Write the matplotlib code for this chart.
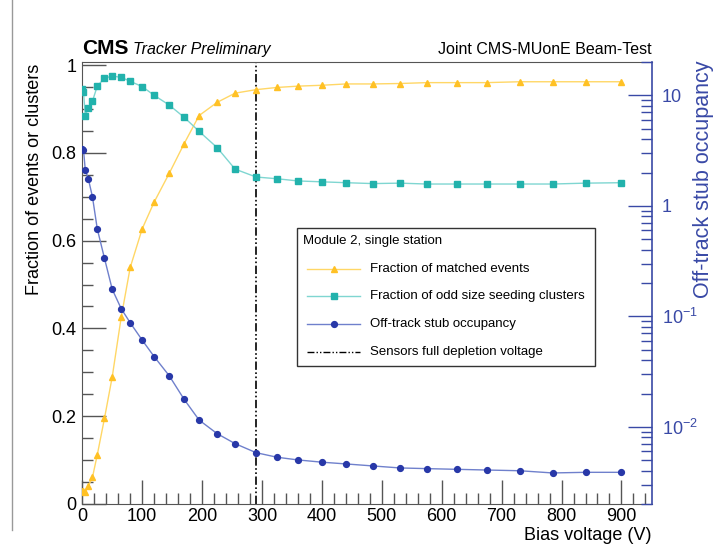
import matplotlib
matplotlib.use("Agg")
import matplotlib.pyplot as plt
import numpy as np
from matplotlib.ticker import MultipleLocator, FixedLocator, FuncFormatter, NullFormatter
from matplotlib.lines import Line2D
from matplotlib.patches import Rectangle

plt.rcParams['font.family'] = ['Liberation Sans', 'DejaVu Sans']
plt.rcParams['mathtext.fontset'] = 'custom'
plt.rcParams['mathtext.rm'] = 'Liberation Sans'

# bias voltage scan points (V)
bias = [0, 2, 5, 10, 17, 25, 37, 50, 65, 80, 100, 120, 145, 170, 195, 225, 255,
        290, 325, 360, 400, 440, 485, 530, 575, 625, 675, 730, 785, 840, 900]

matched = [0.030, 0.030, 0.028, 0.041, 0.061, 0.112, 0.195, 0.290, 0.426, 0.539,
           0.627, 0.688, 0.753, 0.821, 0.885, 0.915, 0.936, 0.944, 0.949, 0.952,
           0.954, 0.957, 0.957, 0.958, 0.960, 0.960, 0.960, 0.962, 0.962, 0.962, 0.962]

odd_size = [0.945, 0.938, 0.885, 0.903, 0.918, 0.952, 0.970, 0.975, 0.972, 0.963,
            0.951, 0.931, 0.909, 0.881, 0.849, 0.812, 0.763, 0.745, 0.741, 0.736,
            0.734, 0.732, 0.730, 0.731, 0.729, 0.729, 0.729, 0.729, 0.729, 0.731, 0.732]

offtrack = [3.27, 3.20, 2.10, 1.76, 1.20, 0.617, 0.335, 0.175, 0.117, 0.0873,
            0.0608, 0.0431, 0.0290, 0.0177, 0.0115, 0.00867, 0.00704, 0.00583,
            0.00530, 0.00501, 0.00478, 0.00461, 0.00442, 0.00424, 0.00418,
            0.00412, 0.00406, 0.00400, 0.00382, 0.00387, 0.00387]

depletion_v = 290

col_y_m, col_y_l = '#FFC125', '#FFD766'
col_t_m, col_t_l = '#22B2AC', '#7FD6D1'
col_b_m, col_b_l = '#2838A8', '#6F80CC'
col_axis2 = '#3949A6'
dashdotdot = (0, (5, 1.5, 1, 1.5, 1, 1.5))

W, H = 720, 556
fig = plt.figure(figsize=(7.2, 5.56), dpi=100)
x0, x1, y0, y1 = 82.3, 652, 62, 504
ax = fig.add_axes([x0 / W, 1 - y1 / H, (x1 - x0) / W, (y1 - y0) / H])

# canvas edge on the left
fig.add_artist(Line2D([12 / W, 12 / W], [1 - 530 / H, 1.0], transform=fig.transFigure,
                      color='#999999', lw=1.0))

ax.plot(bias, matched, color=col_y_l, lw=1.0, marker='^', ms=4.5,
        mfc=col_y_m, mec=col_y_m, zorder=3)
ax.plot(bias, odd_size, color=col_t_l, lw=1.0, marker='s', ms=4.5,
        mfc=col_t_m, mec=col_t_m, zorder=3)
ax.axvline(depletion_v, color='black', lw=1.2, ls=dashdotdot, zorder=2)

ax.set_xlim(0, 951)
ax.set_ylim(0, 1.007)
ax.xaxis.set_major_locator(MultipleLocator(100))
ax.xaxis.set_minor_locator(MultipleLocator(20))
ax.yaxis.set_major_locator(MultipleLocator(0.2))
ax.yaxis.set_minor_locator(MultipleLocator(0.05))
ax.yaxis.set_major_formatter(FuncFormatter(lambda v, p: '0' if v == 0 else ('1' if abs(v - 1) < 1e-9 else f'{v:g}')))
ax.tick_params(which='both', direction='in', labelsize=13, color='#555555',
               top=False, right=False)
ax.tick_params(which='major', length=17, width=1.0)
ax.tick_params(which='minor', length=8, width=1.0)
ax.tick_params(axis='y', pad=4)
ax.tick_params(axis='x', pad=3)
for s in ['left', 'bottom', 'top']:
    ax.spines[s].set_color('#555555')
ax.spines['right'].set_visible(False)

ax2 = ax.twinx()
ax2.set_yscale('log')
ax2.set_ylim(0.002, 20)
ax2.plot(bias, offtrack, color=col_b_l, lw=1.0, marker='o', ms=4.2,
         mfc=col_b_m, mec=col_b_m, zorder=3)


def log_fmt(v, p):
    e = int(round(np.log10(v)))
    if e == 0:
        return '1'
    if e == 1:
        return '10'
    return r'$10^{%d}$' % e


ax2.yaxis.set_major_locator(FixedLocator([0.01, 0.1, 1, 10]))
ax2.yaxis.set_major_formatter(FuncFormatter(log_fmt))
minors = [m * 10.0 ** e for e in range(-3, 2) for m in range(2, 10)]
ax2.yaxis.set_minor_locator(FixedLocator([m for m in minors if 0.002 <= m <= 20]))
ax2.yaxis.set_minor_formatter(NullFormatter())
ax2.tick_params(which='both', direction='in', labelsize=13, color=col_axis2,
                labelcolor=col_axis2, pad=7)
ax2.tick_params(which='major', length=17, width=1.0)
ax2.tick_params(which='minor', length=8, width=1.0)
for s in ['left', 'bottom', 'top']:
    ax2.spines[s].set_visible(False)
ax2.spines['right'].set_color(col_axis2)
ax2.spines['right'].set_linewidth(1.2)

# axis titles
fig.text(35 / W, 1 - 64 / H, 'Fraction of events or clusters', rotation=90,
         ha='center', va='top', fontsize=13)
fig.text(704 / W, 1 - 60 / H, 'Off-track stub occupancy', rotation=90,
         ha='center', va='top', fontsize=15.5, color=col_axis2)
fig.text(652 / W, 1 - 540 / H, 'Bias voltage (V)', ha='right', va='baseline',
         fontsize=13)

# header
fig.text(82 / W, 1 - 54 / H, 'CMS', fontsize=15, fontweight='bold', va='baseline')
fig.text(133 / W, 1 - 54 / H, 'Tracker Preliminary', fontsize=11.5,
         fontstyle='italic', va='baseline')
fig.text(652 / W, 1 - 54 / H, 'Joint CMS-MUonE Beam-Test', fontsize=11.5,
         ha='right', va='baseline')

# legend box
lx0, lx1, ly0, ly1 = 297, 595, 228, 366
fig.patches.append(Rectangle((lx0 / W, 1 - ly1 / H), (lx1 - lx0) / W, (ly1 - ly0) / H,
                             transform=fig.transFigure, facecolor='white',
                             edgecolor='#333333', lw=1.0, zorder=5))
fig.text(303 / W, 1 - 241 / H, 'Module 2, single station', fontsize=9.5,
         va='center', zorder=6)
entries = [
    ('Fraction of matched events', col_y_l, col_y_m, '^', '-'),
    ('Fraction of odd size seeding clusters', col_t_l, col_t_m, 's', '-'),
    ('Off-track stub occupancy', col_b_l, col_b_m, 'o', '-'),
    ('Sensors full depletion voltage', 'black', None, None, dashdotdot),
]
ys = [268.7, 296.3, 324.3, 352]
for (label, lc, mc, mk, ls), yy in zip(entries, ys):
    yf = 1 - yy / H
    fig.add_artist(Line2D([307 / W, 360 / W], [yf, yf], transform=fig.transFigure,
                          color=lc, lw=1.0, ls=ls, zorder=6))
    if mk is not None:
        fig.add_artist(Line2D([333.5 / W], [yf], transform=fig.transFigure,
                              marker=mk, ms=4.2, mfc=mc, mec=mc, ls='none', zorder=7))
    fig.text(370 / W, yf, label, fontsize=9.5, va='center', zorder=6)

fig.savefig('out.png', dpi=100)
